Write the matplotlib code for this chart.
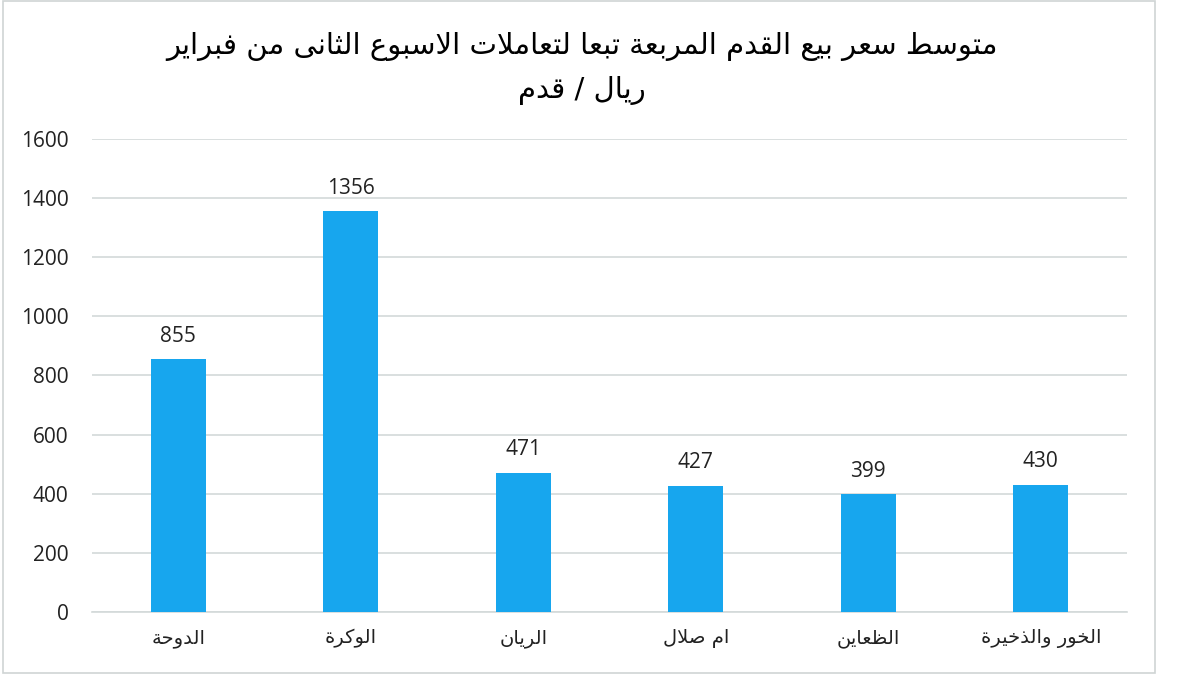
import matplotlib
matplotlib.use("Agg")
from matplotlib import pyplot as plt
from matplotlib.patches import Rectangle

# Data
categories = ["الدوحة", "الوكرة", "الريان", "ام صلال", "الظعاين", "الخور والذخيرة"]
values = [855, 1356, 471, 427, 399, 430]
y_ticks = [0, 200, 400, 600, 800, 1000, 1200, 1400, 1600]
title = "متوسط سعر بيع القدم المربعة تبعا لتعاملات الاسبوع الثانى من فبراير"
subtitle = "ريال / قدم"

# Arabic letters -> (presentation form base, joins to next letter)
FORMS = {
    'ء': (0xFE80, False), 'آ': (0xFE81, False), 'أ': (0xFE83, False), 'إ': (0xFE87, False),
    'ا': (0xFE8D, False), 'ب': (0xFE8F, True), 'ة': (0xFE93, False), 'ت': (0xFE95, True),
    'ث': (0xFE99, True), 'ج': (0xFE9D, True), 'ح': (0xFEA1, True), 'خ': (0xFEA5, True),
    'د': (0xFEA9, False), 'ذ': (0xFEAB, False), 'ر': (0xFEAD, False), 'ز': (0xFEAF, False),
    'س': (0xFEB1, True), 'ش': (0xFEB5, True), 'ص': (0xFEB9, True), 'ض': (0xFEBD, True),
    'ط': (0xFEC1, True), 'ظ': (0xFEC5, True), 'ع': (0xFEC9, True), 'غ': (0xFECD, True),
    'ف': (0xFED1, True), 'ق': (0xFED5, True), 'ك': (0xFED9, True), 'ل': (0xFEDD, True),
    'م': (0xFEE1, True), 'ن': (0xFEE5, True), 'ه': (0xFEE9, True), 'و': (0xFEED, False),
    'ى': (0xFEEF, False), 'ي': (0xFEF1, True),
}
LAM_ALEF = {'ا': 0xFEFB, 'أ': 0xFEF7, 'إ': 0xFEF9, 'آ': 0xFEF5}


def shape(text):
    out = []
    i = 0
    while i < len(text):
        ch = text[i]
        if ch not in FORMS:
            out.append(ch)
            i += 1
            continue
        prev = text[i - 1] if i > 0 else None
        nxt = text[i + 1] if i + 1 < len(text) else None
        join_prev = prev in FORMS and FORMS[prev][1]
        if ch == 'ل' and nxt in LAM_ALEF:
            out.append(chr(LAM_ALEF[nxt] + (1 if join_prev else 0)))
            i += 2
            continue
        base, dual = FORMS[ch]
        join_next = dual and nxt in FORMS
        if join_prev and join_next:
            off = 3
        elif join_next:
            off = 2
        elif join_prev:
            off = 1
        else:
            off = 0
        out.append(chr(base + off))
        i += 1
    return "".join(reversed(out))


fig = plt.figure(figsize=(12, 6.88), dpi=100)
ax = fig.add_axes([0.0767, 0.1105, 0.8625, 0.6875])

x = list(range(len(categories)))
bars = ax.bar(x, values, width=0.32, color="#17A6EE", zorder=3)

ax.set_xlim(-0.5, len(categories) - 0.5)
ax.set_ylim(0, 1600)
ax.set_yticks(y_ticks)
ax.set_yticklabels([str(t) for t in y_ticks], fontsize=15, family="Open Sans", color="#222222")
ax.set_xticks(x)
ax.set_xticklabels([shape(c) for c in categories], fontsize=14, family="DejaVu Sans", color="#222222")
ax.tick_params(axis="y", length=0, pad=17)
ax.tick_params(axis="x", length=0, pad=12)
ax.grid(axis="y", color="#d3d9d9", linewidth=1.2, zorder=0)
for side in ["top", "right", "left"]:
    ax.spines[side].set_visible(False)
ax.spines["bottom"].set_color("#d3d9d9")
ax.spines["bottom"].set_linewidth(1.2)

for b, v in zip(bars, values):
    ax.annotate(str(v), (b.get_x() + b.get_width() / 2, v), xytext=(0, 9),
                textcoords="offset points", ha="center", va="bottom",
                fontsize=15, family="Open Sans", color="#222222")

fig.text(0.485, 0.932, shape(title), ha="center", va="center", fontsize=21, family="DejaVu Sans")
fig.text(0.485, 0.868, shape(subtitle), ha="center", va="center", fontsize=21, family="DejaVu Sans")

# outer frame
fig.patches.append(Rectangle((0.0025, 0.0218), 0.96, 0.977, transform=fig.transFigure,
                             fill=False, edgecolor="#cfd4d4", linewidth=1.2))

fig.savefig("out.png", dpi=100)
